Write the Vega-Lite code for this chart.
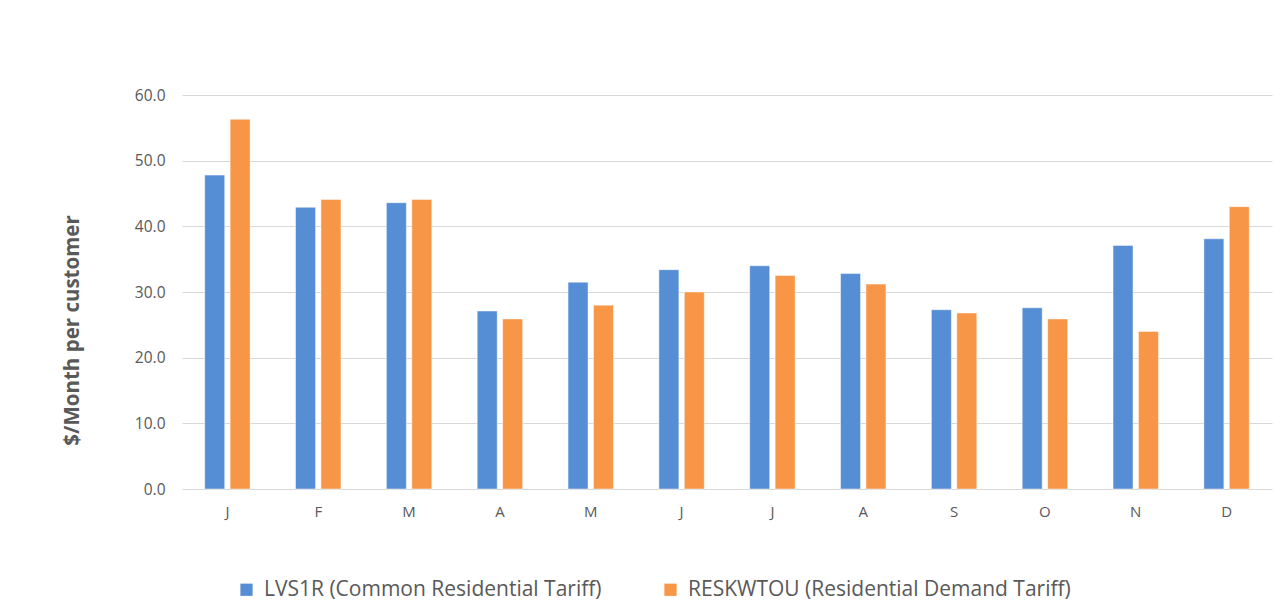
{
  "$schema": "https://vega.github.io/schema/vega-lite/v6.json",
  "autosize": "none",
  "width": 1090,
  "height": 394,
  "padding": {"left": 182, "top": 95, "right": 16, "bottom": 126},
  "background": "white",
  "config": {
    "view": {"stroke": null},
    "font": "Open Sans"
  },
  "data": {
    "values": [
      {"month": "Jan", "series": "LVS1R (Common Residential Tariff)", "value": 47.8},
      {"month": "Jan", "series": "RESKWTOU (Residential Demand Tariff)", "value": 56.3},
      {"month": "Feb", "series": "LVS1R (Common Residential Tariff)", "value": 42.9},
      {"month": "Feb", "series": "RESKWTOU (Residential Demand Tariff)", "value": 44.1},
      {"month": "Mar", "series": "LVS1R (Common Residential Tariff)", "value": 43.6},
      {"month": "Mar", "series": "RESKWTOU (Residential Demand Tariff)", "value": 44.1},
      {"month": "Apr", "series": "LVS1R (Common Residential Tariff)", "value": 27.1},
      {"month": "Apr", "series": "RESKWTOU (Residential Demand Tariff)", "value": 25.9},
      {"month": "May", "series": "LVS1R (Common Residential Tariff)", "value": 31.5},
      {"month": "May", "series": "RESKWTOU (Residential Demand Tariff)", "value": 28.0},
      {"month": "Jun", "series": "LVS1R (Common Residential Tariff)", "value": 33.4},
      {"month": "Jun", "series": "RESKWTOU (Residential Demand Tariff)", "value": 30.0},
      {"month": "Jul", "series": "LVS1R (Common Residential Tariff)", "value": 34.0},
      {"month": "Jul", "series": "RESKWTOU (Residential Demand Tariff)", "value": 32.5},
      {"month": "Aug", "series": "LVS1R (Common Residential Tariff)", "value": 32.8},
      {"month": "Aug", "series": "RESKWTOU (Residential Demand Tariff)", "value": 31.2},
      {"month": "Sep", "series": "LVS1R (Common Residential Tariff)", "value": 27.3},
      {"month": "Sep", "series": "RESKWTOU (Residential Demand Tariff)", "value": 26.8},
      {"month": "Oct", "series": "LVS1R (Common Residential Tariff)", "value": 27.6},
      {"month": "Oct", "series": "RESKWTOU (Residential Demand Tariff)", "value": 25.9},
      {"month": "Nov", "series": "LVS1R (Common Residential Tariff)", "value": 37.1},
      {"month": "Nov", "series": "RESKWTOU (Residential Demand Tariff)", "value": 24.0},
      {"month": "Dec", "series": "LVS1R (Common Residential Tariff)", "value": 38.1},
      {"month": "Dec", "series": "RESKWTOU (Residential Demand Tariff)", "value": 43.0}
    ]
  },
  "mark": {"type": "bar", "stroke": "white", "strokeWidth": 0.8, "strokeOpacity": 0.6},
  "encoding": {
    "x": {
      "field": "month",
      "type": "nominal",
      "sort": ["Jan","Feb","Mar","Apr","May","Jun","Jul","Aug","Sep","Oct","Nov","Dec"],
      "scale": {"paddingInner": 0.5, "paddingOuter": 0.25},
      "axis": {
        "title": null,
        "labelAngle": 0,
        "labelExpr": "substring(datum.label, 0, 1)",
        "ticks": false,
        "domain": false,
        "labelPadding": 15,
        "labelFontSize": 15,
        "labelColor": "#595959",
        "labelFont": "Open Sans"
      }
    },
    "xOffset": {
      "field": "series",
      "type": "nominal",
      "scale": {"paddingInner": 0.213, "paddingOuter": 0}
    },
    "y": {
      "field": "value",
      "type": "quantitative",
      "scale": {"domain": [0, 60], "nice": false},
      "axis": {
        "title": "$/Month per customer",
        "titleFontSize": 20.5,
        "titleFontWeight": "bold",
        "titleColor": "#595959",
        "titleFont": "Open Sans",
        "titleAngle": -90,
        "titleAlign": "center",
        "titleBaseline": "middle",
        "titleX": -110,
        "titleY": 235,
        "values": [0, 10, 20, 30, 40, 50, 60],
        "format": ".1f",
        "ticks": false,
        "domain": false,
        "labelPadding": 17,
        "labelFontSize": 15.5,
        "labelColor": "#595959",
        "labelFont": "Open Sans",
        "gridColor": "#D9D9D9",
        "gridWidth": 1
      }
    },
    "color": {
      "field": "series",
      "type": "nominal",
      "scale": {
        "domain": ["LVS1R (Common Residential Tariff)", "RESKWTOU (Residential Demand Tariff)"],
        "range": ["#558ED5", "#F79646"]
      },
      "legend": {
        "title": null,
        "orient": "none",
        "direction": "horizontal",
        "legendX": 54,
        "legendY": 484,
        "symbolType": "square",
        "symbolSize": 150,
        "symbolStrokeWidth": 0,
        "labelFontSize": 21,
        "labelColor": "#595959",
        "labelFont": "Open Sans",
        "labelLimit": 600,
        "labelOffset": 7,
        "columnPadding": 58
      }
    }
  }
}
